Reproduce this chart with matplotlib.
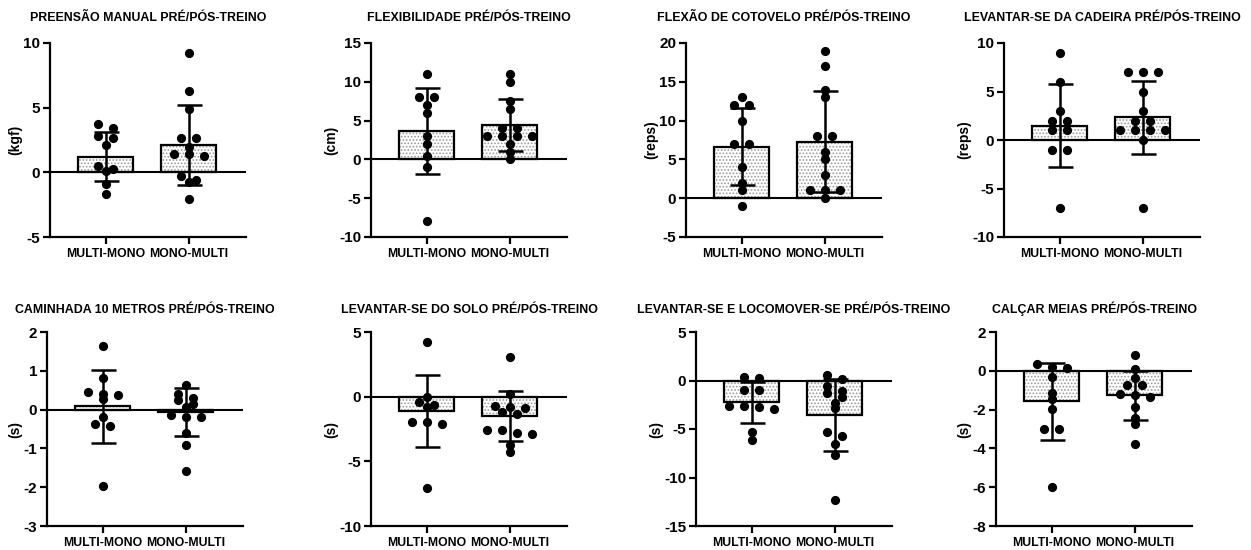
import numpy as np
import matplotlib
matplotlib.use('Agg')
import matplotlib.pyplot as plt

plt.rcParams['font.family'] = ['Liberation Sans', 'DejaVu Sans']
plt.rcParams['font.weight'] = 'bold'
plt.rcParams['hatch.linewidth'] = 0.8
plt.rcParams['axes.unicode_minus'] = False

groups = ['MULTI-MONO', 'MONO-MULTI']

titles = ['PREENSÃO MANUAL PRÉ/PÓS-TREINO',
          'FLEXIBILIDADE PRÉ/PÓS-TREINO',
          'FLEXÃO DE COTOVELO PRÉ/PÓS-TREINO',
          'LEVANTAR-SE DA CADEIRA PRÉ/PÓS-TREINO',
          'CAMINHADA 10 METROS PRÉ/PÓS-TREINO',
          'LEVANTAR-SE DO SOLO PRÉ/PÓS-TREINO',
          'LEVANTAR-SE E LOCOMOVER-SE PRÉ/PÓS-TREINO',
          'CALÇAR MEIAS PRÉ/PÓS-TREINO']
units = ['(kgf)', '(cm)', '(reps)', '(reps)', '(s)', '(s)', '(s)', '(s)']

# individual differences (post - pre), per group
preensao_mm = [3.45, 3.75, 2.8, 2.67, 2.14, 0.28, 0.46, 0.07, -0.92, -1.67]
preensao_mu = [9.25, 6.26, 4.88, 2.67, 2.67, 1.97, 1.45, 1.24, 1.45, -0.32, -0.71, -0.58, -2.06]
flex_mm = [11, 8, 8, 7, 6, 3, 2, 0.5, -1, -8]
flex_mu = [11, 10, 7.5, 6.5, 4, 4, 3, 3, 3, 3, 2, 1, 0]
cotovelo_mm = [13, 12, 12, 10, 7, 7, 4, 2, 1, -1]
cotovelo_mu = [19, 17, 14, 13, 8, 8, 6, 5, 3, 1, 1, 1, 0]
cadeira_mm = [9, 6, 3, 2, 2, 1, 1, -1, -1, -7]
cadeira_mu = [7, 7, 7, 5, 3, 2, 2, 1, 1, 1, 1, 0, -7]
caminhada_mm = [1.65, 0.81, 0.37, 0.41, 0.45, 0.27, -0.19, -0.37, -0.43, -1.97]
caminhada_mu = [0.64, 0.41, 0.25, 0.3, 0.15, 0.06, -0.15, -0.18, -0.18, -0.61, -0.91, -1.58]
solo_mm = [4.22, 0.0, -0.42, -0.81, -0.63, -1.97, -2.1, -1.97, -7.08]
solo_mu = [3.06, 0.2, -0.81, -0.76, -0.88, -1.32, -1.19, -2.6, -2.6, -2.86, -2.8, -3.7, -4.3]
locomover_mm = [0.25, 0.35, -1.0, -1.0, -2.75, -2.6, -2.9, -2.6, -5.3, -6.1]
locomover_mu = [0.6, 0.18, -0.6, -1.3, -1.1, -1.65, -2.27, -2.85, -5.33, -5.77, -6.5, -7.65, -12.3]
meias_mm = [0.19, 0.14, 0.36, -0.32, -1.44, -1.12, -1.97, -3.0, -3.0, -6.0]
meias_mu = [0.82, 0.1, -0.38, -0.72, -0.72, -1.27, -1.18, -1.35, -1.88, -2.44, -2.75, -3.77]

points = [(preensao_mm, preensao_mu), (flex_mm, flex_mu), (cotovelo_mm, cotovelo_mu),
          (cadeira_mm, cadeira_mu), (caminhada_mm, caminhada_mu), (solo_mm, solo_mu),
          (locomover_mm, locomover_mu), (meias_mm, meias_mu)]

means = [(1.2, 2.12), (3.69, 4.42), (6.65, 7.3), (1.47, 2.33),
         (0.08, -0.07), (-1.12, -1.53), (-2.26, -3.54), (-1.58, -1.27)]
sds = [(1.9, 3.1), (5.55, 3.4), (5.0, 6.5), (4.3, 3.8),
       (0.95, 0.62), (2.76, 1.93), (2.1, 3.73), (1.98, 1.28)]

ylims = [(-5, 10), (-10, 15), (-5, 20), (-10, 10), (-3, 2), (-10, 5), (-15, 5), (-8, 2)]
ysteps = [5, 5, 5, 5, 1, 5, 5, 2]

W, H = 1251, 550
fig = plt.figure(figsize=(W / 100, H / 100), dpi=100)

lefts = [50, 371, 686, 1004, 47, 371, 696, 996]
tops = [43, 43, 43, 43, 332, 332, 332, 332]
ax_w, ax_h = 196, 194
xlim = (-0.67, 1.69)


def swarm(vals, px_per_y, px_per_x, step=15.0, near=5.0):
    # group close values into rows and spread each row symmetrically
    vals = np.asarray(vals, dtype=float)
    order = np.argsort(-vals)
    offs = np.zeros(len(vals))
    rows = [[order[0]]]
    for i in order[1:]:
        if abs(vals[rows[-1][0]] - vals[i]) * px_per_y < near:
            rows[-1].append(i)
        else:
            rows.append([i])
    for r in rows:
        n = len(r)
        for j, i in enumerate(r):
            offs[i] = (j - (n - 1) / 2) * step / px_per_x
    return offs


for k in range(8):
    ax = fig.add_axes([lefts[k] / W, 1 - (tops[k] + ax_h) / H, ax_w / W, ax_h / H])
    lo, hi = ylims[k]
    ax.set_xlim(*xlim)
    ax.set_ylim(lo, hi)
    px_y = ax_h / (hi - lo)
    px_x = ax_w / (xlim[1] - xlim[0])

    for g in range(2):
        m, s = means[k][g], sds[k][g]
        ax.bar(g, m, width=0.66, color='white', edgecolor='#9a9a9a',
               hatch='.....', linewidth=0, zorder=1)
        ax.bar(g, m, width=0.66, fill=False, edgecolor='black', linewidth=1.6, zorder=2)
        ax.errorbar(g, m, yerr=s, color='black', capsize=9, elinewidth=1.8,
                    capthick=1.8, zorder=3)
        vals = points[k][g]
        xs = g + swarm(vals, px_y, px_x)
        ax.plot(xs, vals, 'o', color='black', markersize=5.6, zorder=4)

    ax.axhline(0, color='black', linewidth=1.5, zorder=2.5)

    for side in ['top', 'right']:
        ax.spines[side].set_visible(False)
    for side in ['left', 'bottom']:
        ax.spines[side].set_linewidth(1.6)
    ax.set_xticks([0, 1])
    ax.set_xticklabels(groups, fontsize=8.8, fontweight='bold')
    ax.set_yticks(np.arange(lo, hi + ysteps[k] / 2, ysteps[k]))
    ax.tick_params(axis='y', labelsize=11, width=1.6, length=5, pad=2)
    ax.tick_params(axis='x', width=1.6, length=5, pad=3)
    for t in ax.get_yticklabels():
        t.set_fontweight('bold')
    ax.set_ylabel(units[k], fontsize=10, fontweight='bold', labelpad=1)
    ax.set_title(titles[k], fontsize=8.9, fontweight='bold', pad=16 if k < 4 else 14)

fig.savefig('out.png', dpi=100)
